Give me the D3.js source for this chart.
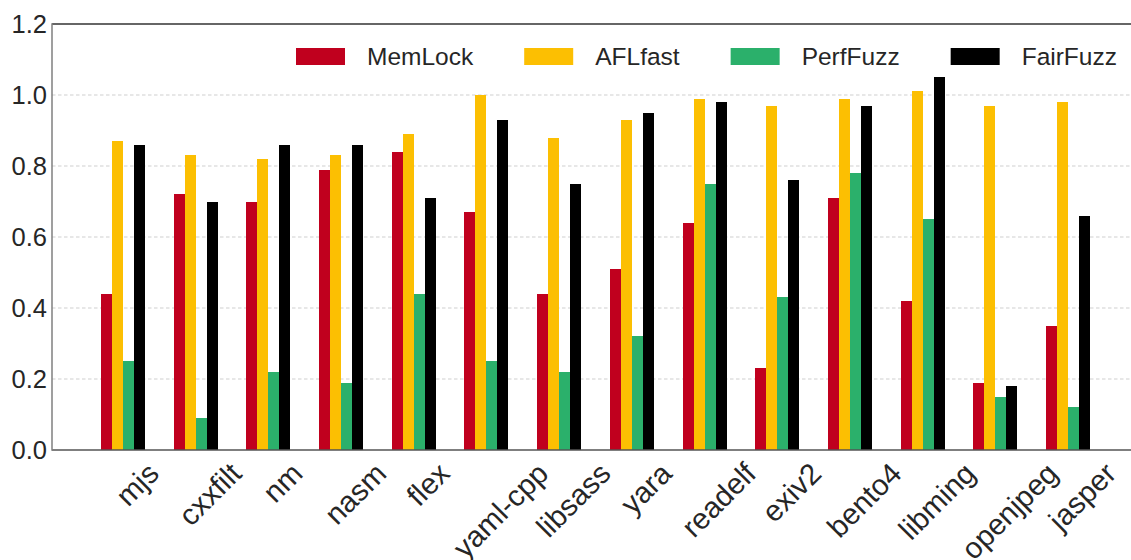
<!DOCTYPE html>
<html>
<head>
<meta charset="utf-8">
<script src="https://cdn.jsdelivr.net/npm/d3@7/dist/d3.min.js"></script>
<style>
  html, body { margin: 0; padding: 0; background: #fff; }
  svg { display: block; font-family: "Liberation Sans", Arial, Helvetica, sans-serif; }
</style>
</head>
<body>
<svg id="chart" width="1131" height="560"></svg>
<script>
// Benchmarks on the x axis
const categories = ["mjs", "cxxfilt", "nm", "nasm", "flex", "yaml-cpp", "libsass",
  "yara", "readelf", "exiv2", "bento4", "libming", "openjpeg", "jasper"];

// Fuzzers, in drawing order
const seriesNames = ["MemLock", "AFLfast", "PerfFuzz", "FairFuzz"];
const seriesColors = ["#c0001e", "#fcbf02", "#2bb06b", "#000000"];

// Normalised scores per benchmark, one array per fuzzer
const memlock  = [0.44, 0.72, 0.70, 0.79, 0.84, 0.67, 0.44, 0.51, 0.64, 0.23, 0.71, 0.42, 0.19, 0.35];
const aflfast  = [0.87, 0.83, 0.82, 0.83, 0.89, 1.00, 0.88, 0.93, 0.99, 0.97, 0.99, 1.01, 0.97, 0.98];
const perffuzz = [0.25, 0.09, 0.22, 0.19, 0.44, 0.25, 0.22, 0.32, 0.75, 0.43, 0.78, 0.65, 0.15, 0.12];
const fairfuzz = [0.86, 0.70, 0.86, 0.86, 0.71, 0.93, 0.75, 0.95, 0.98, 0.76, 0.97, 1.05, 0.18, 0.66];

// Y axis ticks
const yTicks = [0.0, 0.2, 0.4, 0.6, 0.8, 1.0, 1.2];

const seriesValues = [memlock, aflfast, perffuzz, fairfuzz];

const svg = d3.select("#chart");
const plot = { left: 52, right: 1131, top: 24, bottom: 450 };
const textColor = "#262626";

const y = d3.scaleLinear().domain([0, 1.2]).range([plot.bottom, plot.top]);

// Group bands: 14 groups, each 44px wide on a ~72.7px step
const x0 = d3.scaleBand()
  .domain(categories)
  .range([101, 1090])
  .paddingInner(0.395)
  .paddingOuter(0);

const x1 = d3.scaleBand()
  .domain(seriesNames)
  .range([0, x0.bandwidth()])
  .padding(0);

const color = d3.scaleOrdinal().domain(seriesNames).range(seriesColors);

// Dashed horizontal grid
svg.append("g")
  .selectAll("line")
  .data(yTicks.filter(t => t > 0 && t < 1.2))
  .join("line")
  .attr("x1", plot.left).attr("x2", plot.right)
  .attr("y1", d => y(d)).attr("y2", d => y(d))
  .attr("stroke", "#cfcfcf")
  .attr("stroke-width", 1)
  .attr("stroke-dasharray", "3.5,2.5");

// Bars
const rows = categories.map((c, i) => ({
  category: c,
  values: seriesNames.map((s, k) => ({ series: s, value: seriesValues[k][i] }))
}));

svg.append("g")
  .selectAll("g")
  .data(rows)
  .join("g")
  .attr("transform", d => `translate(${x0(d.category)},0)`)
  .selectAll("rect")
  .data(d => d.values)
  .join("rect")
  .attr("x", d => x1(d.series))
  .attr("width", x1.bandwidth())
  .attr("y", d => y(d.value))
  .attr("height", d => y(0) - y(d.value))
  .attr("fill", d => color(d.series))
  .attr("shape-rendering", "crispEdges");

// Spines
svg.append("line")
  .attr("x1", plot.left).attr("x2", plot.right)
  .attr("y1", plot.top).attr("y2", plot.top)
  .attr("stroke", "#333").attr("stroke-width", 1.5);
svg.append("line")
  .attr("x1", plot.left).attr("x2", plot.right)
  .attr("y1", plot.bottom).attr("y2", plot.bottom)
  .attr("stroke", "#555").attr("stroke-width", 1.5);
svg.append("line")
  .attr("x1", plot.left).attr("x2", plot.left)
  .attr("y1", plot.top - 0.75).attr("y2", plot.bottom + 0.75)
  .attr("stroke", "#7f7f7f").attr("stroke-width", 1.5);

// Y axis labels
const yAxis = d3.axisLeft(y)
  .tickValues(yTicks)
  .tickFormat(d3.format(".1f"))
  .tickSize(0)
  .tickPadding(5);

const yg = svg.append("g")
  .attr("transform", `translate(${plot.left},0)`)
  .call(yAxis);
yg.attr("font-family", null).attr("font-size", null);
yg.select(".domain").remove();
yg.selectAll("text")
  .style("font-size", "25.5px")
  .attr("fill", textColor);

// X axis labels, rotated 45 degrees with the rotated box centred under each group
const xFont = 29.5;
const xLabels = svg.append("g");
categories.forEach(c => {
  const cx = x0(c) + x0.bandwidth() / 2 + 14;
  const t = xLabels.append("text")
    .text(c)
    .style("font-size", xFont + "px")
    .attr("fill", textColor)
    .attr("text-anchor", "middle")
    .attr("dominant-baseline", "central");
  const len = t.node().getComputedTextLength();
  const h = xFont * 0.95;
  const half = (len + h) * Math.SQRT1_2 / 2;
  t.attr("transform", `translate(${cx},${plot.bottom + 8 + half}) rotate(-45)`);
});

// Legend: patch, label, column gap
const legend = svg.append("g");
let lx = 296;
seriesNames.forEach(s => {
  legend.append("rect")
    .attr("x", lx).attr("y", 48)
    .attr("width", 49).attr("height", 17)
    .attr("fill", color(s));
  const t = legend.append("text")
    .attr("x", lx + 49 + 22)
    .attr("y", 56.5)
    .attr("dy", "0.35em")
    .style("font-size", "24.5px")
    .attr("fill", textColor)
    .text(s);
  lx += 49 + 22 + t.node().getComputedTextLength() + 51;
});
</script>
</body>
</html>
